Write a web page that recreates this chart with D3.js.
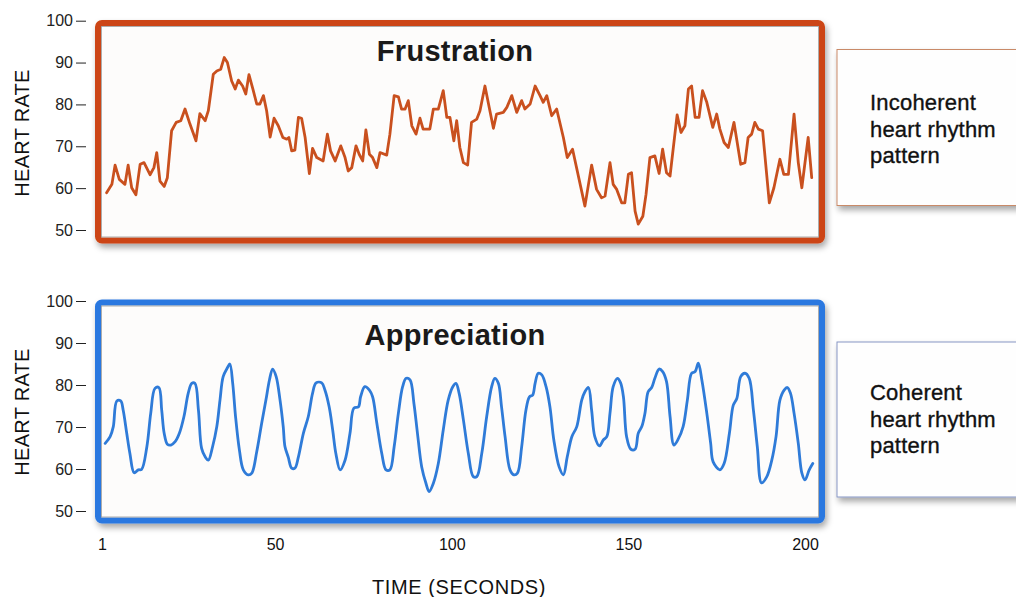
<!DOCTYPE html>
<html>
<head>
<meta charset="utf-8">
<script src="https://cdn.jsdelivr.net/npm/d3@7"></script>
<style>
  html, body { margin: 0; padding: 0; background: #ffffff; }
  svg { display: block; font-family: "Liberation Sans", Arial, Helvetica, sans-serif; }
</style>
</head>
<body>
<svg id="chart" width="1016" height="597"></svg>
<script>
// ---------- DATA ----------
const xTicks = [1, 50, 100, 150, 200];
const yTicks = [50, 60, 70, 80, 90, 100];

const frustrationTime = [2.3,3.8,4.7,5.9,7.5,8.4,9.4,10.6,11.8,12.9,14.6,15.7,16.5,17.4,18.6,19.5,20.7,22.0,23.3,24.5,25.9,27.6,28.7,30.2,31.1,32.5,33.5,34.6,35.6,36.5,37.7,38.7,39.6,40.8,41.7,42.6,43.7,44.8,45.7,46.7,47.6,48.6,49.7,50.9,52.2,53.3,53.9,54.7,55.6,56.6,57.5,58.5,59.7,60.6,61.8,63.6,64.8,65.7,67.0,68.6,69.8,70.7,71.7,72.9,73.8,74.8,75.7,76.7,77.6,78.8,79.7,81.6,82.5,83.7,84.9,85.8,86.8,87.7,88.7,89.9,91.0,91.9,93.8,94.8,96.2,97.6,98.6,99.5,100.6,101.4,102.3,103.3,104.5,105.6,107.1,108.0,109.4,110.6,111.8,112.7,114.6,115.6,117.0,118.4,119.8,120.7,122.2,123.6,125.0,125.9,126.9,128.3,129.7,131.6,132.7,134.2,137.7,139.6,141.0,142.4,143.4,144.8,145.7,146.7,148.1,149.0,150.0,150.9,151.9,152.8,154.1,155.0,156.1,157.5,158.7,159.7,160.8,161.8,163.8,164.9,166.0,167.0,167.9,168.9,170.0,171.0,172.2,173.9,175.0,175.9,177.1,178.3,179.9,181.8,183.0,183.9,184.9,185.8,186.8,188.0,189.9,191.2,192.9,194.0,195.3,196.9,198.1,199.1,200.9,201.9];
const frustrationHR = [58.9,60.9,65.5,62.1,60.9,65.5,60.1,58.4,65.7,66.1,63.2,64.9,68.5,61.7,60.4,62.5,73.7,75.7,76.1,78.9,75.3,71.3,77.8,76.1,78.5,87.2,88.0,88.4,91.2,90.0,85.6,83.7,85.8,84.4,82.5,87.1,83.7,80.1,80.1,82.1,78.5,72.2,76.7,74.9,72.1,71.7,72.1,68.9,69.1,76.9,76.7,72.1,63.5,69.5,67.3,66.5,72.9,68.9,66.5,70.1,67.3,64.1,64.9,70.1,68.1,66.5,73.9,68.1,67.3,64.9,68.5,67.9,72.9,82.1,81.8,78.9,78.9,80.9,74.9,72.9,76.7,74.1,74.1,78.9,78.9,83.3,76.9,76.9,71.3,76.1,69.7,66.1,65.5,75.7,76.5,78.5,84.4,79.3,74.3,77.7,78.1,79.3,82.1,78.1,80.9,78.9,80.1,84.4,82.1,80.5,82.1,77.3,78.9,72.1,67.3,69.3,55.7,65.5,59.7,57.7,58.1,66.1,60.9,59.7,56.5,56.5,63.3,63.7,54.5,51.4,53.3,58.5,67.3,67.7,63.5,69.3,63.7,62.9,77.5,73.3,74.9,83.7,84.4,76.9,76.9,83.3,80.5,74.5,77.7,74.1,70.9,69.7,75.7,65.7,66.1,72.1,72.9,75.7,74.1,73.7,56.5,60.1,66.9,63.3,63.3,77.7,66.1,60.1,72.1,62.5];

const appreciationTime = [1.9,3.3,4.2,5.2,6.3,7.0,8.0,8.9,10.1,11.3,12.2,13.7,14.8,16.0,17.1,17.9,18.6,19.5,20.5,21.7,22.9,24.2,25.4,26.4,27.3,28.3,29.2,30.2,31.1,32.3,33.5,34.4,35.3,36.5,37.2,38.0,38.8,39.9,41.0,42.4,43.4,44.8,46.2,47.4,48.4,49.3,50.3,51.4,52.3,52.8,53.7,54.7,55.6,56.6,58.0,59.4,60.6,61.6,63.2,64.1,65.3,66.3,67.2,68.4,69.8,71.2,72.3,73.6,74.2,75.4,76.7,77.6,78.8,80.2,81.4,82.5,83.7,84.9,86.1,87.1,88.2,89.3,90.3,91.5,92.7,93.6,94.8,96.2,97.6,99.0,100.3,101.2,102.1,103.3,104.7,106.1,107.1,108.5,109.9,111.3,112.2,113.2,114.1,115.1,116.5,117.6,118.6,119.8,121.0,122.0,122.9,123.6,124.5,125.5,126.7,127.8,128.9,130.4,131.6,132.7,134.0,135.4,136.8,137.7,138.7,139.6,140.5,141.8,142.9,143.9,144.8,145.7,146.9,147.8,148.6,149.5,150.7,151.9,152.8,153.8,154.7,155.6,156.6,157.5,158.7,159.7,160.8,161.8,162.9,164.1,165.5,166.7,167.9,168.9,169.8,170.8,172.2,173.3,174.0,175.9,177.1,178.6,179.7,180.7,181.8,183.0,184.2,185.4,186.5,187.7,189.2,190.6,191.8,192.9,194.1,195.0,195.9,196.9,198.1,199.1,200.0,201.2,202.2];
const appreciationHR = [66.1,67.7,70.1,76.2,76.2,74.0,68.5,63.7,59.1,59.8,59.9,65.3,73.3,79.2,79.4,74.0,68.5,65.9,65.7,66.5,68.5,72.5,78.0,80.4,80.4,74.0,64.9,62.9,62.1,65.3,70.1,76.4,82.0,84.1,85.0,80.4,72.5,64.5,59.8,58.6,59.0,64.1,70.9,76.4,81.2,83.8,82.0,76.4,70.1,65.3,62.9,60.2,60.2,62.9,68.5,72.5,78.0,80.5,80.5,78.8,74.8,69.3,63.7,59.8,62.1,68.5,74.5,74.8,77.2,79.6,78.8,77.2,70.9,63.7,59.8,59.8,65.3,73.3,79.6,81.6,81.2,75.6,68.5,60.5,56.6,54.6,56.6,61.3,69.3,76.4,79.6,80.4,78.0,71.7,63.7,58.2,58.2,63.7,72.5,79.6,81.6,80.4,74.8,67.7,59.8,58.6,59.0,65.3,74.0,77.2,77.6,80.4,82.8,82.4,79.6,74.8,66.9,60.5,58.6,62.9,67.7,70.1,76.4,78.4,79.4,74.0,67.7,65.5,66.9,67.7,73.3,79.6,81.6,80.5,77.2,67.7,64.7,64.7,68.5,70.1,73.3,78.4,79.4,81.6,83.8,83.2,80.8,72.5,65.7,67.1,70.1,76.4,82.8,83.2,85.2,81.2,73.3,66.1,61.7,59.8,61.3,68.5,75.2,76.8,82.0,82.8,81.6,74.0,65.3,56.7,58.2,62.1,67.7,76.4,78.8,79.4,78.0,73.3,66.1,59.1,57.4,59.8,61.3];

const panelTitles = ["Frustration", "Appreciation"];
const legendLines = [["Incoherent", "heart rhythm", "pattern"], ["Coherent", "heart rhythm", "pattern"]];

// ---------- DRAW ----------
const svg = d3.select("#chart");
const defs = svg.append("defs");
const f = defs.append("filter").attr("id", "shadow").attr("x", "-10%").attr("y", "-10%").attr("width", "130%").attr("height", "140%");
f.append("feDropShadow").attr("dx", 2).attr("dy", 4).attr("stdDeviation", 3).attr("flood-color", "#000").attr("flood-opacity", 0.35);

const x = d3.scaleLinear().domain([1, 200]).range([102, 805]);

const panels = [
  { time: frustrationTime, hr: frustrationHR, yRange: [230, 20.7], frame: [98, 23, 724, 217.5],
    color: "#cc4512", line: "#c9501e", curve: d3.curveLinear, titleY: 61,
    legend: [837, 49.5, 200, 156], legendStroke: "#c98a68", legendY: 110, yLabelY: 133 },
  { time: appreciationTime, hr: appreciationHR, yRange: [511, 301], frame: [98, 302.5, 724, 218],
    color: "#2a78e0", line: "#2f7bd8", curve: d3.curveCatmullRom.alpha(0.5), titleY: 345,
    legend: [837, 342, 200, 155], legendStroke: "#8796c4", legendY: 400, yLabelY: 412 }
];

panels.forEach((p, i) => {
  const y = d3.scaleLinear().domain([50, 100]).range(p.yRange);

  // y axis
  const ax = svg.append("g").attr("transform", "translate(86,0)")
    .call(d3.axisLeft(y).tickValues(yTicks).tickSize(10).tickPadding(3));
  ax.select(".domain").remove();
  ax.selectAll(".tick line").attr("stroke", "#222").attr("stroke-width", 1);
  ax.selectAll(".tick text").attr("fill", "#222").style("font-size", "16px")
    .style("font-family", "'Liberation Sans', Arial, sans-serif");

  // y label
  svg.append("text")
    .attr("transform", `translate(29,${p.yLabelY}) rotate(-90)`)
    .attr("text-anchor", "middle")
    .style("font-size", "20px").style("letter-spacing", "0.3px").attr("fill", "#111")
    .text("HEART RATE");

  // frame
  const [fx, fy, fw, fh] = p.frame;
  svg.append("rect").attr("x", fx).attr("y", fy).attr("width", fw).attr("height", fh)
    .attr("rx", 4).attr("fill", "#fdfcfb").attr("stroke", p.color).attr("stroke-width", 6)
    .attr("filter", "url(#shadow)");
  svg.append("rect").attr("x", fx + 3.5).attr("y", fy + 3.5).attr("width", fw - 7).attr("height", fh - 7)
    .attr("fill", "none").attr("stroke", "#9a9a9a").attr("stroke-width", 0.8);

  // title
  svg.append("text").attr("x", 455).attr("y", p.titleY)
    .attr("text-anchor", "middle").style("font-size", "29px").style("font-weight", "bold")
    .style("letter-spacing", "0.3px").attr("fill", "#1a1a1a").text(panelTitles[i]);

  // line
  const data = p.time.map((t, k) => [t, p.hr[k]]);
  svg.append("path").datum(data)
    .attr("fill", "none").attr("stroke", p.line).attr("stroke-width", 2.8)
    .attr("stroke-linejoin", "round").attr("stroke-linecap", "round")
    .attr("d", d3.line().x(d => x(d[0])).y(d => y(d[1])).curve(p.curve));

  // legend box
  const [lx, ly, lw, lh] = p.legend;
  svg.append("rect").attr("x", lx).attr("y", ly).attr("width", lw).attr("height", lh)
    .attr("fill", "#fefefe").attr("stroke", p.legendStroke).attr("stroke-width", 1)
    .attr("filter", "url(#shadow)");
  legendLines[i].forEach((s, k) => {
    svg.append("text").attr("x", 870).attr("y", p.legendY + k * 26.5)
      .style("font-size", "22px").style("letter-spacing", "0.2px")
      .attr("fill", "#111").attr("stroke", "#111").attr("stroke-width", 0.35).text(s);
  });
});

// x axis
const xa = svg.append("g").attr("transform", "translate(0,537)")
  .call(d3.axisBottom(x).tickValues(xTicks).tickSize(0).tickPadding(2).tickFormat(d3.format("d")));
xa.select(".domain").remove();
xa.selectAll(".tick text").attr("fill", "#111").style("font-size", "16px")
  .style("font-family", "'Liberation Sans', Arial, sans-serif");

svg.append("text").attr("x", 459).attr("y", 594).attr("text-anchor", "middle")
  .style("font-size", "20px").style("letter-spacing", "0.6px").attr("fill", "#111").text("TIME (SECONDS)");
</script>
</body>
</html>
